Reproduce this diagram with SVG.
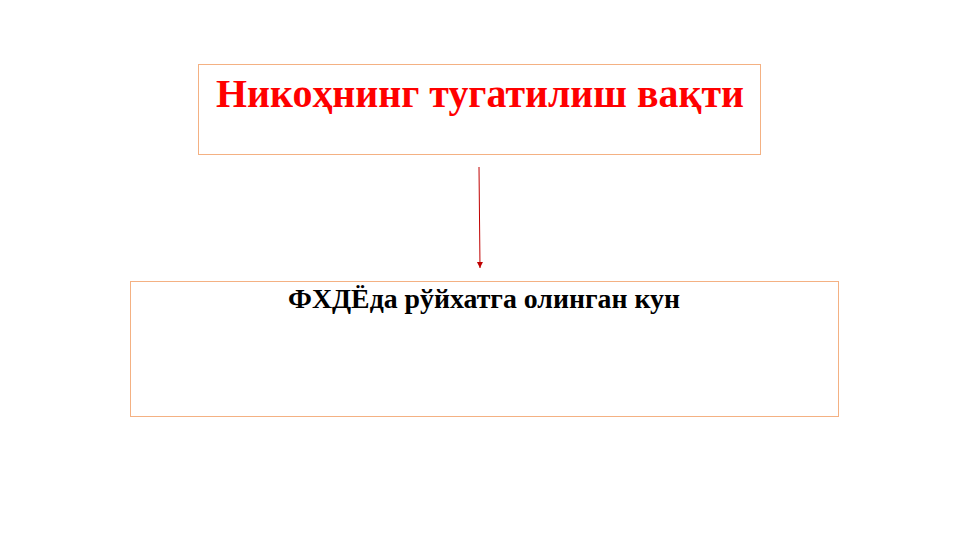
<svg xmlns="http://www.w3.org/2000/svg" width="960" height="540" viewBox="0 0 960 540">
<style>
.box{fill:#fff;stroke:#F4B183;stroke-width:1}
.t1{font-family:"Liberation Serif","Times New Roman",serif;font-weight:bold;font-size:39px;fill:#FF0000}
.t2{font-family:"Liberation Serif","Times New Roman",serif;font-weight:bold;font-size:27px;fill:#000}
.conn{stroke:#C00000;stroke-width:1;fill:none}
</style>
<defs>
<marker id="ah" markerWidth="8" markerHeight="8" refX="6" refY="4" orient="auto" markerUnits="userSpaceOnUse">
<path d="M0,1 L6,4 L0,7 Z" fill="#C00000"/>
</marker>
</defs>
<rect width="960" height="540" fill="#fff"/>
<g id="node-top">
<rect class="box" x="198.5" y="64.5" width="562" height="90"/>
<text class="t1" x="480" y="107" text-anchor="middle" textLength="528" lengthAdjust="spacingAndGlyphs">Никоҳнинг тугатилиш вақти</text>
</g>
<g id="node-bottom">
<rect class="box" x="130.5" y="281.5" width="708" height="135"/>
<text class="t2" x="484" y="308" text-anchor="middle" textLength="392" lengthAdjust="spacingAndGlyphs">ФХДЁда рўйхатга олинган кун</text>
</g>
<g id="connectors">
<line class="conn" x1="479" y1="167" x2="480" y2="268" marker-end="url(#ah)"/>
</g>
</svg>
